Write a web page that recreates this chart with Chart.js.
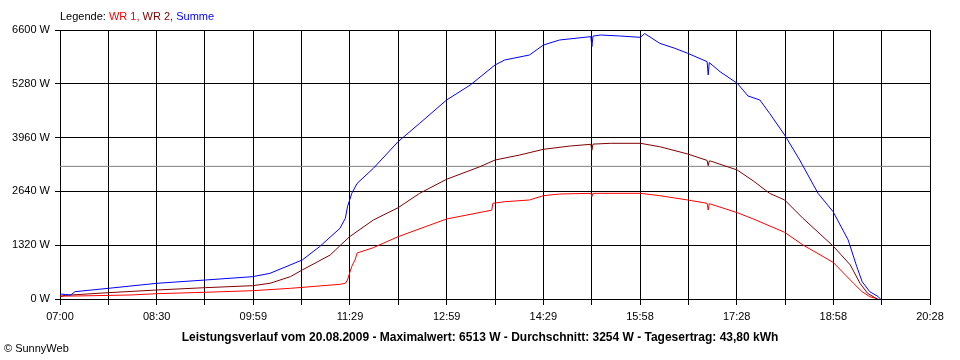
<!DOCTYPE html>
<html>
<head>
<meta charset="utf-8">
<script src="https://cdn.jsdelivr.net/npm/chart.js@4/dist/chart.umd.min.js"></script>
<style>
  body { margin: 0; background: #fff; }
  #wrap { position: relative; width: 960px; height: 360px; font-family: "Liberation Sans", Arial, sans-serif; }
  #legend { position: absolute; left: 60px; top: 10px; font-size: 11px; line-height: 13px; white-space: nowrap; }
  #title { position: absolute; left: 0; width: 960px; top: 330px; text-align: center; font-size: 12px; font-weight: bold; line-height: 14px; }
  #copy { position: absolute; left: 4px; top: 342px; font-size: 11px; line-height: 13px; }
</style>
</head>
<body>
<div id="wrap">
  <canvas id="powerChart" width="960" height="360"></canvas>
  <div id="legend">Legende: <span style="color:#ff0000">WR 1,</span> <span style="color:#800000">WR 2,</span> <span style="color:#0000ff">Summe</span></div>
  <div id="title">Leistungsverlauf vom 20.08.2009 - Maximalwert: 6513 W - Durchschnitt: 3254 W - Tagesertrag: 43,80 kWh</div>
  <div id="copy">&copy; SunnyWeb</div>
</div>
<script>
const xTickLabels = ['07:00', '08:30', '09:59', '11:29', '12:59', '14:29', '15:58', '17:28', '18:58', '20:28'];
const yTicks = [0, 1320, 2640, 3960, 5280, 6600];
const average = 3254;

// WR 1
const wr1Times = ['07:00','07:17','08:05','08:30','09:15','09:59','10:34','11:20','11:25','11:27','11:29','11:31','11:34','11:36','11:51','12:14','12:59','13:41','13:42','13:53','14:16','14:29','14:44','15:13','15:14','15:15','15:59','16:17','16:43','17:01','17:02','17:03','17:29','17:44','18:13','18:30','18:58','19:17','19:25','19:32','19:40'];
const wr1Watts = [70,75,98,130,165,204,262,360,385,466,638,800,957,1129,1259,1529,1963,2180,2348,2387,2429,2535,2576,2593,2510,2593,2593,2535,2429,2348,2184,2340,2118,1963,1636,1325,900,385,179,57,0];

// WR 2
const wr2Times = ['07:00','07:05','07:45','08:30','09:15','09:59','10:15','10:34','10:45','11:11','11:20','11:29','11:51','12:14','12:34','12:59','13:30','13:44','14:07','14:29','14:54','15:13','15:14','15:15','15:31','15:59','16:17','16:43','17:01','17:02','17:03','17:04','17:29','17:44','17:59','18:13','18:30','18:58','19:14','19:23','19:30','19:39'];
const wr2Watts = [60,90,155,221,278,327,385,548,712,1080,1308,1529,1938,2240,2593,2937,3246,3410,3533,3673,3754,3795,3650,3800,3820,3820,3737,3558,3400,3271,3386,3386,3165,2895,2593,2429,1980,1300,834,385,140,0];

// Summe
const sumTimes = ['07:00','07:05','07:10','07:14','07:45','08:30','09:15','09:59','10:15','10:45','11:01','11:20','11:25','11:27','11:31','11:36','11:51','12:14','12:34','12:59','13:21','13:44','13:53','14:16','14:29','14:44','15:13','15:14','15:15','15:22','15:40','15:59','16:03','16:17','16:31','16:43','17:01','17:02','17:03','17:13','17:29','17:39','17:50','17:59','18:13','18:27','18:44','18:58','19:12','19:20','19:25','19:32','19:40','19:42'];
const sumWatts = [123,110,100,180,262,385,466,548,630,957,1283,1734,1980,2265,2593,2838,3206,3860,4310,4882,5250,5741,5864,5987,6232,6355,6437,6190,6450,6477,6453,6420,6513,6273,6151,6028,5823,5496,5800,5577,5292,4981,4882,4556,4024,3410,2593,2142,1448,793,425,180,57,0];

const xMin = 420, xMax = 1228;

function toMin(t) {
  const p = t.split(':');
  return parseInt(p[0]) * 60 + parseInt(p[1]);
}
function pts(times, vals) {
  return times.map((t, i) => ({ x: toMin(t), y: vals[i] }));
}

const font = { family: '"Liberation Sans", Arial, sans-serif', size: 11 };

new Chart(document.getElementById('powerChart').getContext('2d'), {
  type: 'line',
  data: {
    datasets: [
      { label: 'Summe', data: pts(sumTimes, sumWatts), borderColor: '#0000ff', borderWidth: 1, pointRadius: 0, tension: 0 },
      { label: 'WR 2', data: pts(wr2Times, wr2Watts), borderColor: '#800000', borderWidth: 1, pointRadius: 0, tension: 0 },
      { label: 'WR 1', data: pts(wr1Times, wr1Watts), borderColor: '#ff0000', borderWidth: 1, pointRadius: 0, tension: 0 },
      { label: 'Durchschnitt', data: [{ x: xMin, y: average }, { x: xMax, y: average }], borderColor: '#808080', borderWidth: 1, pointRadius: 0 }
    ]
  },
  options: {
    responsive: false,
    animation: false,
    devicePixelRatio: 1,
    layout: { padding: { left: 0, right: 30, top: 30, bottom: 0 } },
    plugins: { legend: { display: false }, title: { display: false }, tooltip: { enabled: false } },
    scales: {
      x: {
        type: 'linear',
        min: xMin,
        max: xMax,
        afterBuildTicks: axis => {
          axis.ticks = [];
          for (let i = 0; i <= 18; i++) axis.ticks.push({ value: xMin + i * (xMax - xMin) / 18 });
        },
        afterFit: axis => { axis.height = 61; },
        grid: { color: '#000', lineWidth: 1, tickLength: 6, tickColor: '#000' },
        border: { color: '#000', width: 1 },
        ticks: {
          autoSkip: false, maxRotation: 0, padding: 5, color: '#000', font: font,
          callback: (v, i) => i % 2 === 0 ? xTickLabels[i / 2] : ''
        }
      },
      y: {
        min: 0,
        max: 6600,
        afterBuildTicks: axis => { axis.ticks = yTicks.map(v => ({ value: v })); },
        afterFit: axis => { axis.width = 60; },
        grid: { color: '#000', lineWidth: 1, tickLength: 5, tickColor: '#000' },
        border: { color: '#000', width: 1 },
        ticks: { padding: 5, color: '#000', font: font, callback: v => v + ' W' }
      }
    }
  }
});
</script>
</body>
</html>
